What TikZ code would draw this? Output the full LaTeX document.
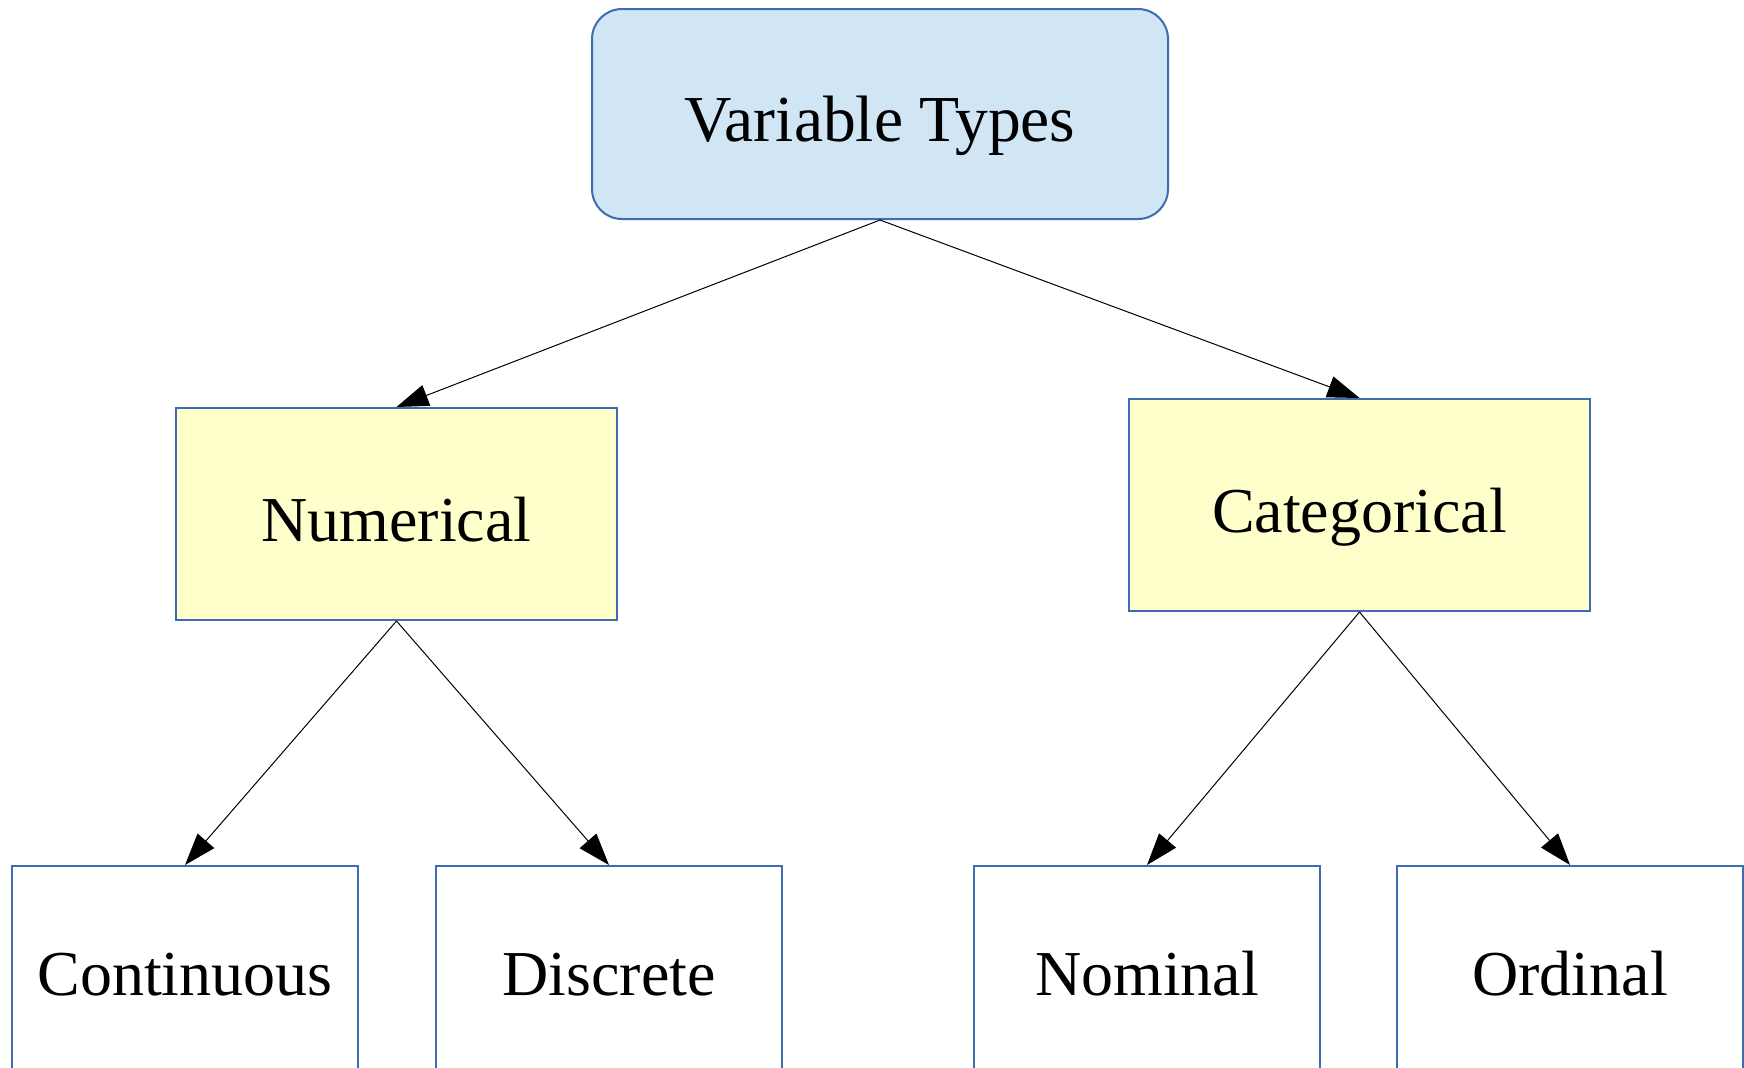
\documentclass[tikz,border=0pt]{standalone}
\usepackage{fontspec}
\setmainfont{Liberation Serif}
\usepackage{tikz}
\usetikzlibrary{arrows.meta}
\definecolor{boxline}{RGB}{63,106,180}
\definecolor{topfill}{RGB}{208,230,244}
\definecolor{midfill}{RGB}{255,255,204}

\begin{document}
\begin{tikzpicture}[x=0.5pt,y=-0.5pt,
  box/.style={draw=boxline,line width=1pt,inner sep=0pt,text height=27.7pt,text depth=0pt,font=\fontsize{32}{38}\selectfont},
  link/.style={line width=0.5pt,-{Triangle[length=16pt,width=11pt]}}]
\useasboundingbox (0,0) rectangle (1744,1067);
\node[box,fill=topfill,rounded corners=15pt,minimum width=288pt,minimum height=105pt,font=\fontsize{32.8}{38}\selectfont] (types) at (880,114) {Variable Types};
\node[box,fill=midfill,minimum width=220.5pt,minimum height=106pt] (num) at (396.5,514) {Numerical};
\node[box,fill=midfill,minimum width=230.5pt,minimum height=106pt] (cat) at (1359.5,505) {Categorical};
\node[box,minimum width=173pt,minimum height=102pt] (cont) at (185,968) {Continuous};
\node[box,minimum width=173pt,minimum height=102pt] (disc) at (609,968) {Discrete};
\node[box,minimum width=173pt,minimum height=102pt] (nom) at (1147,968) {Nominal};
\node[box,minimum width=173pt,minimum height=102pt] (ord) at (1570,968) {Ordinal};
\draw[link] (types.south) -- (num.north);
\draw[link] (types.south) -- (cat.north);
\draw[link] (num.south) -- (cont.north);
\draw[link] (num.south) -- (disc.north);
\draw[link] (cat.south) -- (nom.north);
\draw[link] (cat.south) -- (ord.north);
\end{tikzpicture}
\end{document}
